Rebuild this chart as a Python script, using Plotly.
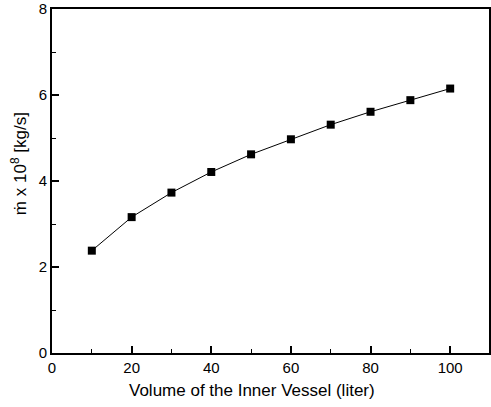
import plotly.graph_objects as go

volume = [10, 20, 30, 40, 50, 60, 70, 80, 90, 100]
mdot = [2.38, 3.16, 3.73, 4.21, 4.62, 4.97, 5.31, 5.61, 5.88, 6.15]
x_ticks = [0, 20, 40, 60, 80, 100]
y_ticks = [0, 2, 4, 6, 8]
x_title = "Volume of the Inner Vessel (liter)"
y_title = "ṁ x 10<sup>8</sup> [kg/s]"

font = "Liberation Sans, Arial, sans-serif"

fig = go.Figure()
fig.add_trace(go.Scatter(
    x=volume, y=mdot, mode="lines+markers",
    line=dict(color="black", width=1),
    marker=dict(symbol="square", size=8, color="black"),
    showlegend=False,
))

axis_common = dict(
    showgrid=False, zeroline=False, showline=True, linecolor="black", linewidth=2,
    mirror=True, ticks="inside", ticklen=7, tickwidth=1.5, tickcolor="black",
    tickfont=dict(family=font, size=15, color="black"),
)

fig.update_xaxes(
    range=[0, 109.75], tickvals=x_ticks,
    minor=dict(dtick=10, ticks="inside", ticklen=4, tickcolor="black", tickwidth=1),
    **axis_common,
)
fig.update_yaxes(
    range=[0, 8], tickvals=y_ticks, ticklabeloverflow="allow",
    minor=dict(dtick=1, ticks="inside", ticklen=4, tickcolor="black", tickwidth=1),
    **axis_common,
)

fig.add_annotation(
    text=x_title, xref="paper", yref="paper", x=0.458, y=-0.108,
    xanchor="center", yanchor="middle", showarrow=False,
    font=dict(family=font, size=17, color="black"),
)
fig.add_annotation(
    text=y_title, xref="paper", yref="paper", x=-0.077, y=0.55,
    xanchor="center", yanchor="middle", showarrow=False, textangle=-90,
    font=dict(family=font, size=17, color="black"),
)

fig.update_layout(
    width=491, height=407,
    margin=dict(l=52, r=0, t=8, b=54),
    plot_bgcolor="white", paper_bgcolor="white",
)

fig.write_html("out.html")
